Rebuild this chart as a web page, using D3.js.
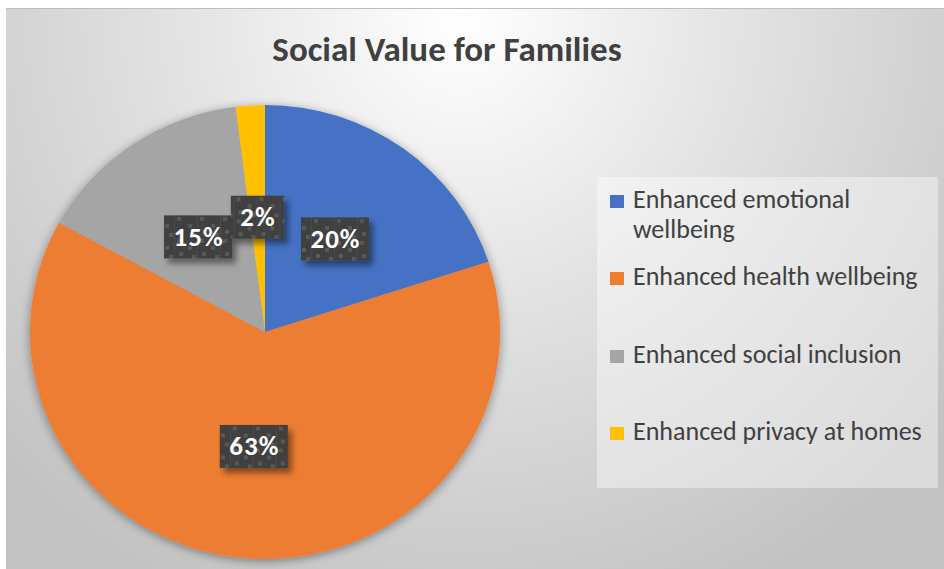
<!DOCTYPE html>
<html>
<head>
<meta charset="utf-8">
<script src="https://cdn.jsdelivr.net/npm/d3@7"></script>
<style>
	body { margin: 0; background: #fff; }
	svg { display: block; }
</style>
</head>
<body>
<script>
	// data
	var title = 'Social Value for Families';
	var categories = ['Enhanced emotional wellbeing', 'Enhanced health wellbeing', 'Enhanced social inclusion', 'Enhanced privacy at homes'];
	var legendLines = [['Enhanced emotional', 'wellbeing'], ['Enhanced health wellbeing'], ['Enhanced social inclusion'], ['Enhanced privacy at homes']];
	var values = [20, 63, 15, 2];
	var colors = ['#4472C4', '#ED7D31', '#A5A5A5', '#FFC000'];

	var W = 944, H = 569;
	var cx = 265, cy = 332, r = 227, sx = 235 / 227;

	var svg = d3.select('body').append('svg')
		.attr('width', W)
		.attr('height', H);

	var defs = svg.append('defs');

	// background gradient
	var bg = defs.append('radialGradient')
		.attr('id', 'bg')
		.attr('gradientUnits', 'userSpaceOnUse')
		.attr('cx', 460).attr('cy', 20).attr('r', 640);
	bg.append('stop').attr('offset', 0).attr('stop-color', '#ffffff');
	bg.append('stop').attr('offset', 0.45).attr('stop-color', '#e2e2e2');
	bg.append('stop').attr('offset', 1).attr('stop-color', '#c2c2c2');

	var pieShadow = defs.append('filter').attr('id', 'pieShadow')
		.attr('x', '-20%').attr('y', '-20%').attr('width', '140%').attr('height', '140%');
	pieShadow.append('feDropShadow')
		.attr('dx', 0).attr('dy', 2).attr('stdDeviation', 5)
		.attr('flood-color', '#000').attr('flood-opacity', 0.4);

	var boxShadow = defs.append('filter').attr('id', 'boxShadow')
		.attr('x', '-30%').attr('y', '-30%').attr('width', '170%').attr('height', '170%');
	boxShadow.append('feDropShadow')
		.attr('dx', 4).attr('dy', 5).attr('stdDeviation', 3)
		.attr('flood-color', '#000').attr('flood-opacity', 0.45);

	// dark texture of the label boxes
	var pat = defs.append('pattern')
		.attr('id', 'tex')
		.attr('patternUnits', 'userSpaceOnUse')
		.attr('width', 23).attr('height', 22);
	pat.append('rect').attr('width', 23).attr('height', 22).attr('fill', '#404040');
	pat.append('rect').attr('x', 22).attr('width', 1).attr('height', 22).attr('fill', '#4a4a4a');
	[[2, 2], [13, 9], [4, 15], [17, 18]].forEach(function(p) {
		pat.append('rect').attr('x', p[0]).attr('y', p[1])
			.attr('width', 4).attr('height', 4).attr('fill', '#595959');
	});

	// chart area
	svg.append('rect')
		.attr('x', 6).attr('y', 8)
		.attr('width', W - 6).attr('height', H - 8)
		.attr('fill', 'url(#bg)');
	svg.append('line')
		.attr('x1', 6).attr('x2', W).attr('y1', 8.5).attr('y2', 8.5)
		.attr('stroke', '#bdbdbd').attr('stroke-width', 1);

	svg.append('text')
		.attr('x', 447).attr('y', 61)
		.attr('text-anchor', 'middle')
		.attr('font-family', 'Carlito, Lato, sans-serif')
		.attr('font-weight', 'bold')
		.attr('font-size', 35)
		.attr('fill', '#404040')
		.text(title);

	// pie
	var pie = d3.pie().sort(null).value(function(d) { return d; });
	var arcs = pie(values);
	var arc = d3.arc().innerRadius(0).outerRadius(r);
	var labelArc = d3.arc().innerRadius(0).outerRadius(230);

	var g = svg.append('g')
		.attr('transform', 'translate(' + cx + ',' + cy + ') scale(' + sx + ',1)');
	g.append('g')
		.attr('filter', 'url(#pieShadow)')
		.selectAll('path')
		.data(arcs)
		.enter()
		.append('path')
		.attr('d', arc)
		.attr('fill', function(d, i) { return colors[i]; });

	// labels
	var lab = svg.selectAll('g.lab')
		.data(arcs)
		.enter()
		.append('g')
		.attr('class', 'lab')
		.attr('transform', function(d) {
			var c = labelArc.centroid(d);
			return 'translate(' + (cx + c[0] * sx) + ',' + (cy + c[1]) + ')';
		});
	lab.each(function(d) {
		var el = d3.select(this);
		var t = el.append('text')
			.attr('text-anchor', 'middle')
			.attr('x', 0.5)
			.attr('y', 9)
			.attr('font-family', 'Carlito, Lato, sans-serif')
			.attr('font-weight', 'bold')
			.attr('font-size', 27)
			.attr('letter-spacing', 1)
			.attr('fill', '#fff')
			.text(d.value + '%');
		var w = t.node().getComputedTextLength() + 18;
		el.insert('rect', 'text')
			.attr('x', -w / 2).attr('y', -21.5)
			.attr('width', w).attr('height', 43)
			.attr('fill', 'url(#tex)')
			.attr('filter', 'url(#boxShadow)');
	});

	// legend
	var legend = svg.append('g');
	legend.append('rect')
		.attr('x', 597).attr('y', 177)
		.attr('width', 341).attr('height', 311)
		.attr('fill', '#ffffff').attr('fill-opacity', 0.4);

	var baselines = [208, 285, 363, 440];
	var item = legend.selectAll('g.item')
		.data(categories)
		.enter()
		.append('g')
		.attr('class', 'item')
		.attr('transform', function(d, i) { return 'translate(610,' + baselines[i] + ')'; });
	item.append('rect')
		.attr('x', 0).attr('y', -13)
		.attr('width', 14).attr('height', 13)
		.attr('fill', function(d, i) { return colors[i]; });
	item.append('text')
		.attr('x', 23)
		.attr('font-family', 'Carlito, Lato, sans-serif')
		.attr('font-size', 26)
		.attr('fill', '#404040')
		.selectAll('tspan')
		.data(function(d, i) { return legendLines[i]; })
		.enter()
		.append('tspan')
		.attr('x', 23)
		.attr('dy', function(d, i) { return i ? 30 : 0; })
		.text(function(d) { return d; });
</script>
</body>
</html>
